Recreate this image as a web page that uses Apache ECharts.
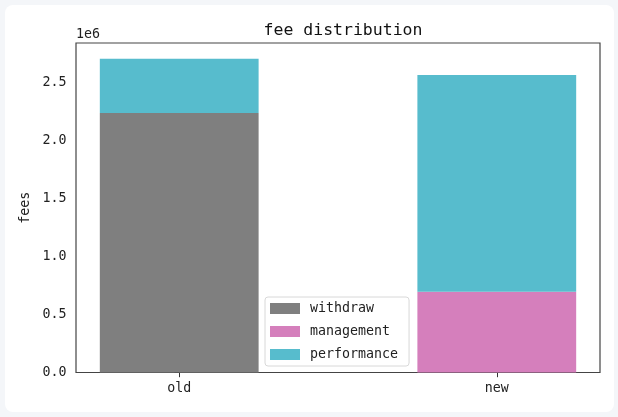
<!DOCTYPE html>
<html>
<head>
<meta charset="utf-8">
<script src="https://cdn.jsdelivr.net/npm/echarts@6/dist/echarts.min.js"></script>
<style>
  html, body { margin: 0; padding: 0; background: #f4f6f9; }
  #card { position: absolute; left: 5px; top: 5px; width: 609px; height: 407px; background: #ffffff; border-radius: 8px; }
  #chart { position: absolute; left: 0; top: 0; width: 618px; height: 417px; }
</style>
</head>
<body>
<div id="card"></div>
<div id="chart"></div>
<script>
const categories = ['old', 'new'];
const withdraw = [2236000, 0];
const management = [0, 695000];
const performance = [467000, 1868000];
const yTicks = [0, 500000, 1000000, 1500000, 2000000, 2500000];
const seriesNames = ['withdraw', 'management', 'performance'];
const colors = ['#7f7f7f', '#d57fbc', '#57bccd'];

const FONT = 'DejaVu Sans Mono';
const total = categories.map((c, i) => withdraw[i] + management[i] + performance[i]);
const yMax = Math.max(...total) * 1.05;

// value first (stacked dimension), category index second
const toPairs = arr => arr.map((v, i) => [v, i]);
const barW = 0.5 / 1.65 * 524;

const chart = echarts.init(document.getElementById('chart'), null, { renderer: 'canvas' });
chart.setOption({
  animation: false,
  textStyle: { fontFamily: FONT },
  title: {
    text: 'fee distribution',
    left: 338, top: 17, textAlign: 'center',
    textStyle: { fontFamily: FONT, fontSize: 16.5, fontWeight: 'normal', color: '#111' }
  },
  graphic: [{
    type: 'text', left: 76, top: 28,
    style: { text: '1e6', font: '13.3px "DejaVu Sans Mono"', fill: '#222' }
  }],
  grid: {
    left: 76, top: 43, right: 18, bottom: 44.5,
    show: true, borderColor: '#444', borderWidth: 1.2, backgroundColor: 'transparent'
  },
  legend: {
    orient: 'vertical', left: 265, top: 297,
    data: seriesNames,
    icon: 'rect', itemWidth: 30, itemHeight: 11, itemGap: 10,
    padding: [5, 11, 5, 5],
    backgroundColor: '#fff', borderColor: '#d8d8d8', borderWidth: 1, borderRadius: 3,
    textStyle: { fontFamily: FONT, fontSize: 13.3, color: '#222', padding: [0, 0, 0, 5] }
  },
  xAxis: {
    type: 'value', min: -0.325, max: 1.325,
    splitLine: { show: false },
    axisLine: { show: false },
    axisTick: { show: true, customValues: [0, 1], length: 4.7, lineStyle: { color: '#333' } },
    axisLabel: {
      customValues: [0, 1], margin: 9.5,
      formatter: v => categories[Math.round(v)],
      fontFamily: FONT, fontSize: 13.3, color: '#222'
    }
  },
  yAxis: {
    type: 'value', min: 0, max: yMax,
    name: 'fees', nameLocation: 'middle', nameRotate: 90, nameGap: 38,
    nameTextStyle: { fontFamily: FONT, fontSize: 13.3, color: '#222' },
    splitLine: { show: false },
    axisLine: { show: false },
    axisTick: { show: true, customValues: yTicks, length: 4.7, lineStyle: { color: '#333' } },
    axisLabel: {
      customValues: yTicks, margin: 9.5,
      formatter: v => (v / 1e6).toFixed(1),
      fontFamily: FONT, fontSize: 13.3, color: '#222'
    }
  },
  series: [
    { name: 'withdraw', type: 'bar', stack: 'fees', barWidth: barW, encode: { x: 1, y: 0 }, data: toPairs(withdraw), itemStyle: { color: colors[0] } },
    { name: 'management', type: 'bar', stack: 'fees', barWidth: barW, encode: { x: 1, y: 0 }, data: toPairs(management), itemStyle: { color: colors[1] } },
    { name: 'performance', type: 'bar', stack: 'fees', barWidth: barW, encode: { x: 1, y: 0 }, data: toPairs(performance), itemStyle: { color: colors[2] } }
  ]
});
</script>
</body>
</html>
